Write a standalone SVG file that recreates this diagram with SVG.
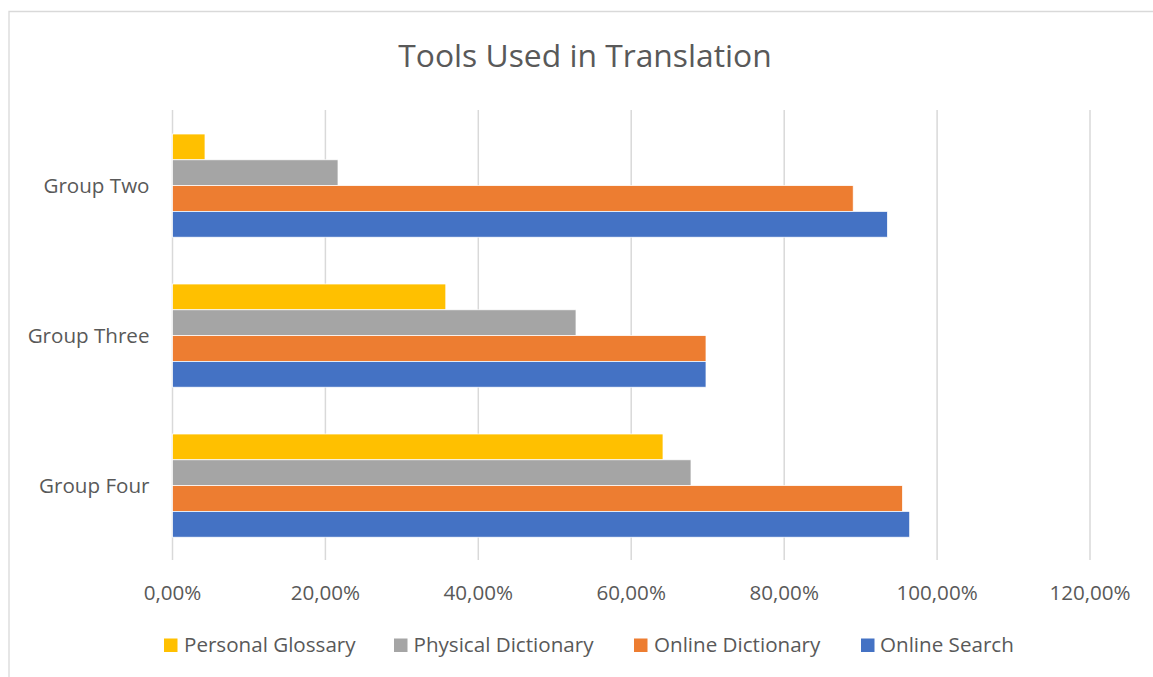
<svg xmlns="http://www.w3.org/2000/svg" width="1153" height="677" viewBox="0 0 1153 677">
<style>
.txt{font-family:"Open Sans","Liberation Sans",sans-serif;fill:#595959;font-size:20.6px}
.title{font-size:31.8px}
.grid{stroke:#D9D9D9;stroke-width:1.5}
.bar{stroke:#FFFFFF;stroke-width:0.75}
.pg{fill:#FFC000}.phd{fill:#A5A5A5}.od{fill:#ED7D31}.os{fill:#4472C4}
</style>
<rect x="0" y="0" width="1153" height="677" fill="#FFFFFF"/>
<path d="M9,677 V11.5 H1153" fill="none" stroke="#D9D9D9" stroke-width="1.3"/>
<text class="txt title" x="585" y="67" text-anchor="middle">Tools Used in Translation</text>
<g id="gridlines">
<line class="grid" x1="172.5" y1="110" x2="172.5" y2="560"/>
<line class="grid" x1="325.4" y1="110" x2="325.4" y2="560"/>
<line class="grid" x1="478.3" y1="110" x2="478.3" y2="560"/>
<line class="grid" x1="631.2" y1="110" x2="631.2" y2="560"/>
<line class="grid" x1="784.2" y1="110" x2="784.2" y2="560"/>
<line class="grid" x1="937.1" y1="110" x2="937.1" y2="560"/>
<line class="grid" x1="1090" y1="110" x2="1090" y2="560"/>
</g>
<g id="group-two">
<rect class="bar pg" x="172.5" y="134" width="32.5" height="25.8"/>
<rect class="bar phd" x="172.5" y="159.8" width="165.5" height="25.8"/>
<rect class="bar od" x="172.5" y="185.6" width="680.7" height="25.8"/>
<rect class="bar os" x="172.5" y="211.4" width="715" height="25.8"/>
<text class="txt" x="149.5" y="192.5" text-anchor="end">Group Two</text>
</g>
<g id="group-three">
<rect class="bar pg" x="172.5" y="284" width="273.3" height="25.8"/>
<rect class="bar phd" x="172.5" y="309.8" width="403.5" height="25.8"/>
<rect class="bar od" x="172.5" y="335.6" width="533.5" height="25.8"/>
<rect class="bar os" x="172.5" y="361.4" width="533.5" height="25.8"/>
<text class="txt" x="149.5" y="342.5" text-anchor="end">Group Three</text>
</g>
<g id="group-four">
<rect class="bar pg" x="172.5" y="434" width="490.5" height="25.8"/>
<rect class="bar phd" x="172.5" y="459.8" width="518.5" height="25.8"/>
<rect class="bar od" x="172.5" y="485.6" width="730" height="25.8"/>
<rect class="bar os" x="172.5" y="511.4" width="737.2" height="25.8"/>
<text class="txt" x="149.5" y="492.5" text-anchor="end">Group Four</text>
</g>
<g id="x-axis" text-anchor="middle">
<text class="txt" x="172.5" y="600">0,00%</text>
<text class="txt" x="325.4" y="600">20,00%</text>
<text class="txt" x="478.3" y="600">40,00%</text>
<text class="txt" x="631.2" y="600">60,00%</text>
<text class="txt" x="784.2" y="600">80,00%</text>
<text class="txt" x="937.1" y="600">100,00%</text>
<text class="txt" x="1090" y="600">120,00%</text>
</g>
<g id="legend">
<rect class="pg" x="164" y="638.5" width="13.5" height="13.5"/>
<text class="txt" x="184" y="652">Personal Glossary</text>
<rect class="phd" x="394" y="638.5" width="13.5" height="13.5"/>
<text class="txt" x="413.5" y="652">Physical Dictionary</text>
<rect class="od" x="634" y="638.5" width="13.5" height="13.5"/>
<text class="txt" x="654" y="652">Online Dictionary</text>
<rect class="os" x="861" y="638.5" width="13.5" height="13.5"/>
<text class="txt" x="880" y="652">Online Search</text>
</g>
</svg>
